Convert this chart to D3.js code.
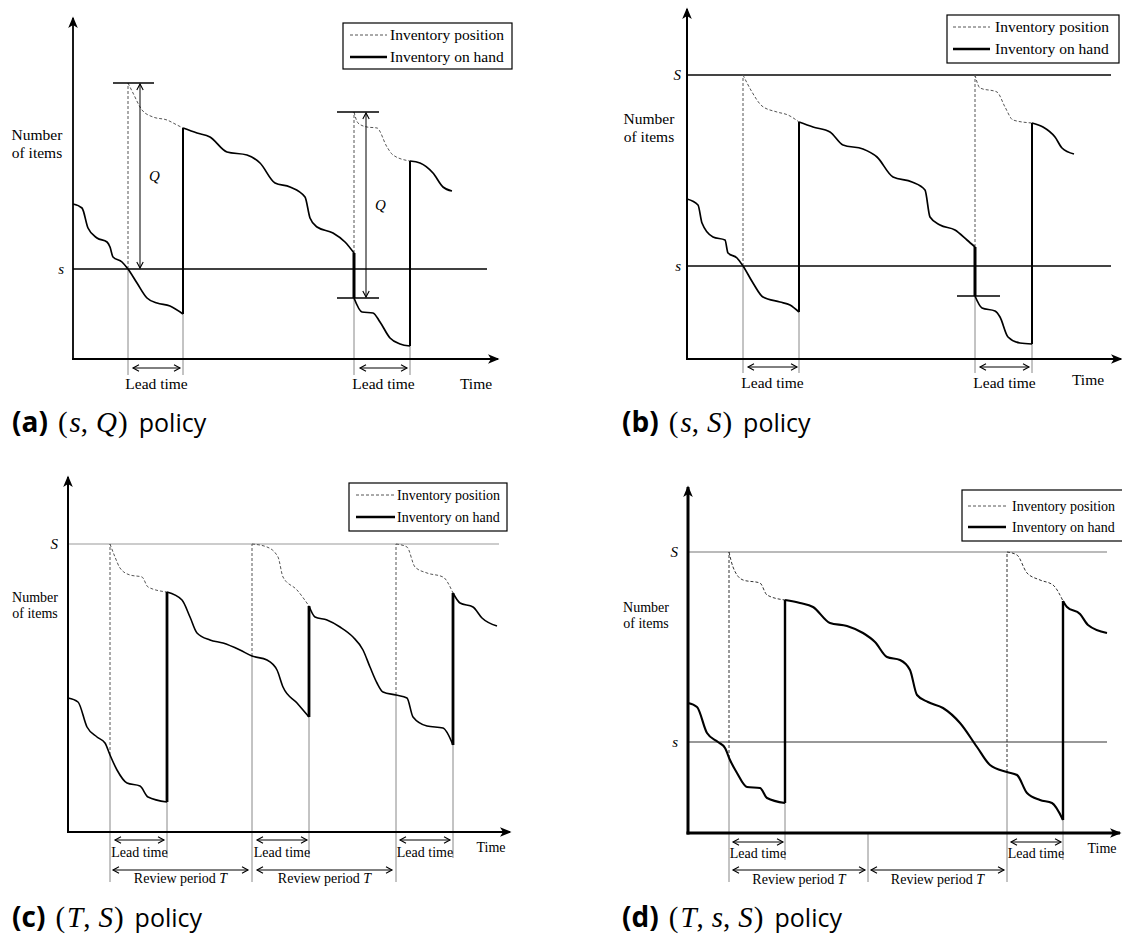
<!DOCTYPE html>
<html><head><meta charset="utf-8">
<script src="https://cdn.jsdelivr.net/npm/d3@7"></script>
<style>body{margin:0;background:#fff}svg{display:block}</style>
</head><body>
<svg id="c" width="1122" height="936"></svg>
<script>
// ================= DATA (schematic units: time, number of items) =================
const legendLabels = ["Inventory position", "Inventory on hand"];
const axisTitle = ["Number", "of items"];
const timeLabel = "Time";
const leadLabel = "Lead time";
const reviewLabel = "Review period ";
const captionLetters = ["a", "b", "c", "d"];
const captionVars = [["s", "Q"], ["s", "S"], ["T", "S"], ["T", "s", "S"]];
const captionWord = "policy";

// ---- (a) (s,Q) policy ----
const aOnHand = [
  [[0,155],[9,151],[15,131],[24,121],[34,117],[37,112],[40,102],[49,97],[55,90],[64,76],[74,61],[84,56],[97,53],[110,45]],
  [[110,231],[124,226],[137,222],[154,207],[174,204],[187,196],[202,176],[217,172],[232,162],[237,141],[244,132],[260,126],[272,117],[281,106]],
  [[281,61],[289,47],[300,46],[307,37],[317,21],[327,15],[337,13]],
  [[337,198],[347,196],[360,186],[370,172],[379,168]]
];
const aPosition = [
  [[55,276],[60,266],[69,249],[80,242],[94,239],[104,234],[110,231]],
  [[281,247],[285,236],[294,232],[304,231],[314,212],[320,204],[337,198]]
];
const aOrderLines = [[55,90,276],[281,106,247]];
const aReorder = 90;
const aQArrows = [[67,90,276],[293,61,247]];
const aMarkers = [[40,81,276],[264,306,247],[264,306,61]];
const aGuides = [[55,90,-16],[110,45,-16],[281,61,-16],[337,13,-16]];
const aLead = [[60,107],[287,334]];

// ---- (b) (s,S) policy ----
const bOnHand = [
  [[0,160],[11,154],[15,136],[26,122],[38,119],[41,106],[50,101],[56,93],[66,76],[76,62],[93,57],[103,54],[112,47]],
  [[112,237],[126,232],[143,227],[156,214],[176,210],[190,202],[206,182],[225,177],[238,169],[243,142],[253,134],[268,129],[280,119],[288,112]],
  [[288,63],[295,51],[308,48],[313,42],[321,22],[333,16],[345,15]],
  [[345,236],[356,232],[368,222],[375,211],[387,205]]
];
const bPosition = [
  [[56,284],[65,267],[75,253],[90,247],[101,244],[112,237]],
  [[288,284],[293,271],[310,267],[318,252],[326,239],[345,236]]
];
const bOrderLines = [[56,93,284],[288,112,284]];
const bOrderUpTo = 284;
const bReorder = 93;
const bMarkers = [[270,313,63]];
const bGuides = [[56,93,-14],[112,47,-14],[288,63,-14],[345,15,-14]];
const bLead = [[61,110],[293,342]];

// ---- (c) (T,S) policy ----
const cOnHand = [
  [[0,134],[10,130],[19,105],[29,95],[37,89],[42,77],[49,62],[59,49],[72,46],[80,35],[99,30]],
  [[99,240],[114,232],[122,215],[129,199],[142,192],[155,189],[172,182],[184,176],[199,172],[209,162],[215,145],[229,129],[241,115]],
  [[241,226],[247,215],[259,212],[272,205],[285,195],[295,182],[302,165],[309,149],[315,140],[328,137],[339,134],[345,115],[359,106],[375,104],[385,87]],
  [[385,239],[392,229],[405,225],[414,214],[429,206]]
];
const cPosition = [
  [[42,288],[47,275],[52,264],[62,257],[74,255],[80,245],[99,240]],
  [[184,288],[199,285],[210,275],[215,255],[229,242],[241,226]],
  [[328,288],[339,285],[347,265],[359,259],[375,255],[385,239]]
];
const cOrderLines = [[42,77,288],[184,176,288],[328,137,288]];
const cOrderUpTo = 288;
const cGuides = [[42,77,-50],[99,30,-26],[184,176,-50],[241,115,-26],[328,137,-50],[385,87,-26]];
const cLead = [[47,96],[189,239],[332,382]];
const cReview = [[45,180],[189,324]];

// ---- (d) (T,s,S) policy ----
const dOnHand = [
  [[0,130],[9,126],[19,100],[30,91],[37,85],[42,73],[49,60],[59,46],[72,45],[79,35],[97,30]],
  [[97,233],[112,230],[125,226],[142,210],[159,207],[175,200],[187,191],[199,176],[212,173],[222,163],[229,138],[240,131],[255,125],[272,110],[289,86],[302,68],[319,61],[329,58],[339,40],[352,33],[364,30],[375,13]],
  [[375,232],[379,226],[392,219],[400,208],[419,200]]
];
const dPosition = [
  [[41,281],[45,266],[55,253],[72,250],[79,238],[97,233]],
  [[319,281],[329,278],[339,260],[352,253],[365,248],[375,232]]
];
const dOrderLines = [[41,75,281],[319,61,281]];
const dOrderUpTo = 281;
const dReorder = 91;
const dGuides = [[41,75,-49],[97,30,-27],[180,0,-49],[319,61,-49],[375,13,-27]];
const dLead = [[45,95],[323,373]];
const dReview = [[45,177],[183,316]];

// ================= DRAWING =================
const SERIF = "'Liberation Serif','DejaVu Serif',serif";
const SANS = "'Open Sans',Lato,'DejaVu Sans',sans-serif";
const svg = d3.select("#c");
const defs = svg.append("defs");
defs.append("marker").attr("id","axArrow").attr("viewBox","-12 -6 14 12")
  .attr("refX",0).attr("refY",0).attr("markerWidth",14).attr("markerHeight",12)
  .attr("markerUnits","userSpaceOnUse").attr("orient","auto")
  .append("path").attr("d","M1.5,0 L-10,-4.8 L-7,0 L-10,4.8 Z").attr("fill","#000");
defs.append("marker").attr("id","dimArrow").attr("viewBox","-8 -5 10 10")
  .attr("refX",0).attr("refY",0).attr("markerWidth",10).attr("markerHeight",10)
  .attr("markerUnits","userSpaceOnUse").attr("orient","auto-start-reverse")
  .append("path").attr("d","M-6,-3.2 L0,0 L-6,3.2").attr("fill","none")
  .attr("stroke","#000").attr("stroke-width",1.1);

const panels = [
  { x0:73, xTip:498, y0:359, yTop:18, tMax:425, nMax:341, axisW:1.8, curveW:1.7, jumpW:[2,3,2],
    onHand:aOnHand, position:aPosition, orderLines:aOrderLines, guides:aGuides,
    levels:[{v:aReorder,label:"s",color:"#000",w:1.4}], levelEnd:414, levelPad:9,
    markers:aMarkers, qArrows:aQArrows, lead:aLead, leadN:-9, leadTextY:389, review:null,
    font:15.5, title:[37,140,158], time:[476,389], dashColor:"#555",
    legend:{box:[343,23,512,69], sx:[350,387], rows:[35,57], tx:390} },
  { x0:687, xTip:1121, y0:359, yTop:9, tMax:434, nMax:350, axisW:2, curveW:1.7, jumpW:[2,3,2],
    onHand:bOnHand, position:bPosition, orderLines:bOrderLines, guides:bGuides,
    levels:[{v:bOrderUpTo,label:"S",color:"#444",w:2},{v:bReorder,label:"s",color:"#444",w:2}], levelEnd:424, levelPad:6,
    markers:bMarkers, qArrows:[], lead:bLead, leadN:-8, leadTextY:388, review:null,
    font:15.5, title:[649,124,142], time:[1088,385], dashColor:"#555",
    legend:{box:[947,15,1119,63], sx:[953,990], rows:[27,49], tx:995} },
  { x0:68, xTip:510, y0:832, yTop:477, tMax:442, nMax:355, axisW:2, curveW:1.6, jumpW:[2.8,2.8,2.8],
    onHand:cOnHand, position:cPosition, orderLines:cOrderLines, guides:cGuides,
    levels:[{v:cOrderUpTo,label:"S",color:"#999",w:1.1}], levelEnd:431, levelPad:10,
    markers:[], qArrows:[], lead:cLead, leadN:-8, leadTextY:857, review:cReview, reviewN:-38, reviewTextY:883,
    font:14, title:[35,602,618], time:[491,852], dashColor:"#555",
    legend:{box:[349,483,507,531], sx:[356,395], rows:[495,517], tx:397} },
  { x0:688, xTip:1120, y0:833, yTop:487, tMax:432, nMax:346, axisW:3, curveW:2.1, jumpW:[2.4,2.4],
    onHand:dOnHand, position:dPosition, orderLines:dOrderLines, guides:dGuides,
    levels:[{v:dOrderUpTo,label:"S",color:"#777",w:1.1},{v:dReorder,label:"s",color:"#333",w:1.1}], levelEnd:419, levelPad:10,
    markers:[], qArrows:[], lead:dLead, leadN:-9, leadTextY:858, review:dReview, reviewN:-37, reviewTextY:884,
    font:14, title:[646,612,628], time:[1102,853], dashColor:"#333",
    legend:{box:[962,490,1124,541], sx:[968,1006], rows:[506,527], tx:1012} }
];

function drawPanel(p) {
  const x = d3.scaleLinear().domain([0, p.tMax]).range([p.x0, p.xTip]);
  const y = d3.scaleLinear().domain([0, p.nMax]).range([p.y0, p.yTop]);
  const g = svg.append("g");
  const line = d3.line().x(d => x(d[0])).y(d => y(d[1])).curve(d3.curveMonotoneX);

  p.levels.forEach(l => g.append("line")
    .attr("x1", x(0)).attr("x2", x(p.levelEnd)).attr("y1", y(l.v)).attr("y2", y(l.v))
    .attr("stroke", l.color).attr("stroke-width", l.w));

  p.guides.forEach(([t, top, bot]) => g.append("line")
    .attr("x1", x(t)).attr("x2", x(t)).attr("y1", y(top)).attr("y2", y(bot))
    .attr("stroke", "#888").attr("stroke-width", 1));

  g.append("line").attr("x1", x(0) - p.axisW / 2).attr("y1", y(0)).attr("x2", x(p.tMax)).attr("y2", y(0))
    .attr("stroke", "#000").attr("stroke-width", p.axisW).attr("marker-end", "url(#axArrow)");
  g.append("line").attr("x1", x(0)).attr("y1", y(0) + p.axisW / 2).attr("x2", x(0)).attr("y2", y(p.nMax))
    .attr("stroke", "#000").attr("stroke-width", p.axisW).attr("marker-end", "url(#axArrow)");

  const yAxis = d3.axisLeft(y).tickValues(p.levels.map(l => l.v))
    .tickFormat((d, i) => p.levels[i].label).tickSize(0).tickPadding(p.levelPad);
  const ya = g.append("g").attr("transform", `translate(${x(0)},0)`).call(yAxis);
  ya.select(".domain").remove();
  ya.attr("font-family", SERIF).attr("font-size", 15).attr("font-style", "italic");

  p.orderLines.forEach(([t, a, b]) => g.append("line")
    .attr("x1", x(t)).attr("x2", x(t)).attr("y1", y(a)).attr("y2", y(b))
    .attr("stroke", p.dashColor).attr("stroke-width", 1).attr("stroke-dasharray", "3,2"));
  p.position.forEach(seg => g.append("path").attr("d", line(seg)).attr("fill", "none")
    .attr("stroke", p.dashColor).attr("stroke-width", 1).attr("stroke-dasharray", "3,2"));

  p.onHand.forEach(seg => g.append("path").attr("d", line(seg)).attr("fill", "none")
    .attr("stroke", "#000").attr("stroke-width", p.curveW).attr("stroke-linejoin", "round"));
  for (let i = 0; i < p.onHand.length - 1; i++) {
    const a = p.onHand[i][p.onHand[i].length - 1], b = p.onHand[i + 1][0];
    g.append("line").attr("x1", x(b[0])).attr("x2", x(b[0])).attr("y1", y(a[1])).attr("y2", y(b[1]))
      .attr("stroke", "#000").attr("stroke-width", p.jumpW[i]);
  }

  p.markers.forEach(([t0, t1, n]) => g.append("line")
    .attr("x1", x(t0)).attr("x2", x(t1)).attr("y1", y(n)).attr("y2", y(n))
    .attr("stroke", "#000").attr("stroke-width", 1.3));

  p.qArrows.forEach(([t, a, b]) => {
    g.append("line").attr("x1", x(t)).attr("x2", x(t)).attr("y1", y(a) - 1).attr("y2", y(b) + 1)
      .attr("stroke", "#000").attr("stroke-width", 1)
      .attr("marker-start", "url(#dimArrow)").attr("marker-end", "url(#dimArrow)");
    g.append("text").attr("x", x(t) + 9).attr("y", y((a + b) / 2) + 5)
      .attr("font-family", SERIF).attr("font-style", "italic").attr("font-size", 15).text("Q");
  });

  p.lead.forEach(([t0, t1]) => {
    g.append("line").attr("x1", x(t0)).attr("x2", x(t1)).attr("y1", y(p.leadN)).attr("y2", y(p.leadN))
      .attr("stroke", "#000").attr("stroke-width", 1)
      .attr("marker-start", "url(#dimArrow)").attr("marker-end", "url(#dimArrow)");
    g.append("text").attr("x", x((t0 + t1) / 2)).attr("y", p.leadTextY).attr("text-anchor", "middle")
      .attr("font-family", SERIF).attr("font-size", p.font).text(leadLabel);
  });

  if (p.review) p.review.forEach(([t0, t1]) => {
    g.append("line").attr("x1", x(t0)).attr("x2", x(t1)).attr("y1", y(p.reviewN)).attr("y2", y(p.reviewN))
      .attr("stroke", "#000").attr("stroke-width", 1)
      .attr("marker-start", "url(#dimArrow)").attr("marker-end", "url(#dimArrow)");
    const tx = g.append("text").attr("x", x((t0 + t1) / 2)).attr("y", p.reviewTextY).attr("text-anchor", "middle")
      .attr("font-family", SERIF).attr("font-size", p.font);
    tx.append("tspan").text(reviewLabel);
    tx.append("tspan").attr("font-style", "italic").text("T");
  });

  g.append("text").attr("x", p.time[0]).attr("y", p.time[1]).attr("text-anchor", "middle")
    .attr("font-family", SERIF).attr("font-size", p.font).text(timeLabel);
  axisTitle.forEach((s, i) => g.append("text").attr("x", p.title[0]).attr("y", p.title[1 + i])
    .attr("text-anchor", "middle").attr("font-family", SERIF).attr("font-size", p.font).text(s));

  const L = p.legend;
  g.append("rect").attr("x", L.box[0]).attr("y", L.box[1]).attr("width", L.box[2] - L.box[0])
    .attr("height", L.box[3] - L.box[1]).attr("fill", "#fff").attr("stroke", "#000").attr("stroke-width", 1.2);
  g.append("line").attr("x1", L.sx[0]).attr("x2", L.sx[1]).attr("y1", L.rows[0]).attr("y2", L.rows[0])
    .attr("stroke", "#555").attr("stroke-width", 1).attr("stroke-dasharray", "3,2");
  g.append("line").attr("x1", L.sx[0]).attr("x2", L.sx[1]).attr("y1", L.rows[1]).attr("y2", L.rows[1])
    .attr("stroke", "#000").attr("stroke-width", 2.4);
  legendLabels.forEach((s, i) => g.append("text").attr("x", L.tx).attr("y", L.rows[i] + 5)
    .attr("font-family", SERIF).attr("font-size", p.font).text(s));
}
panels.forEach(drawPanel);

// captions
const capPos = [[12, 432], [622, 432], [12, 927], [622, 927]];
captionLetters.forEach((l, i) => {
  const t = svg.append("text").attr("x", capPos[i][0]).attr("y", capPos[i][1]).attr("fill", "#000");
  t.append("tspan").attr("font-family", SANS).attr("font-weight", "bold").attr("font-size", 28).text(`(${l})`);
  t.append("tspan").attr("dx", 10).attr("font-family", SERIF).attr("font-size", 29).text("(");
  captionVars[i].forEach((v, j) => {
    if (j > 0) t.append("tspan").attr("font-family", SERIF).attr("font-size", 29).text(",");
    t.append("tspan").attr("dx", j > 0 ? 8 : 2).attr("font-family", SERIF).attr("font-size", 29)
      .attr("font-style", "italic").text(v);
  });
  t.append("tspan").attr("dx", 1).attr("font-family", SERIF).attr("font-size", 29).text(")");
  t.append("tspan").attr("dx", 11).attr("font-family", SANS).attr("font-size", 25).text(captionWord);
});
</script>
</body></html>
